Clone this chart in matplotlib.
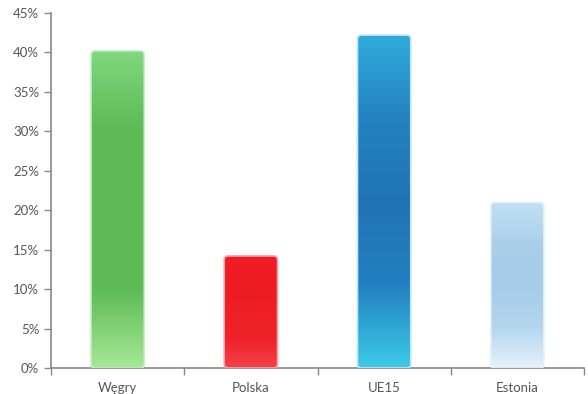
import matplotlib
matplotlib.use("Agg")
import matplotlib.pyplot as plt
import numpy as np
from matplotlib.colors import LinearSegmentedColormap
from matplotlib.patches import FancyBboxPatch
from matplotlib.ticker import MultipleLocator, FuncFormatter

countries = ["Węgry", "Polska", "UE15", "Estonia"]
values = [40.2, 14.2, 42.2, 21.0]
# gradient stops top -> bottom
gradients = [
    ["#80d880", "#5dba56", "#5dba56", "#5dba56", "#a6e896"],
    ["#ee1d26", "#ed1c24", "#ee1f27", "#ef2229", "#f5424a"],
    ["#2fabdb", "#2482c0", "#2174b4", "#2380c0", "#3ccbe8"],
    ["#c2e0f3", "#abcfe9", "#a6cce8", "#b4d5ee", "#e6f1fb"],
]
edges = ["#c8f0c0", "#f8a0a4", "#bfe6f6", "#e8f3fb"]

plt.rcParams["font.family"] = ["Lato", "DejaVu Sans"]
fig = plt.figure(figsize=(5.88, 3.94), dpi=100)
ax = fig.add_axes([51 / 588, 26 / 394, 533 / 588, 355 / 394])

w = 0.4
x = np.arange(len(countries))
for xi, v, stops, ec in zip(x, values, gradients, edges):
    cmap = LinearSegmentedColormap.from_list("g", stops[::-1])
    grad = np.linspace(0, 1, 256).reshape(-1, 1)
    patch = FancyBboxPatch((xi - w / 2, 0), w, v,
                           boxstyle="round,pad=0,rounding_size=0.03",
                           mutation_aspect=17, facecolor="none",
                           edgecolor=ec, linewidth=1.2, zorder=3)
    ax.add_patch(patch)
    im = ax.imshow(grad, cmap=cmap, origin="lower", aspect="auto",
                   extent=(xi - w / 2, xi + w / 2, 0, v), zorder=2)
    im.set_clip_path(patch)

ax.set_xlim(-0.5, len(countries) - 0.5)
ax.set_ylim(0, 45)
ax.yaxis.set_major_locator(MultipleLocator(5))
ax.yaxis.set_major_formatter(FuncFormatter(lambda v, p: f"{v:.0f}%"))
ax.set_xticks(x, countries)
ax.set_xticks(np.arange(len(countries) + 1) - 0.5, minor=True)
ax.tick_params(axis="x", which="major", length=0, pad=10)
ax.tick_params(axis="x", which="minor", length=5, color="#888888", width=1)
ax.tick_params(axis="y", length=5, color="#888888", width=1)
ax.tick_params(labelsize=9.5, labelcolor="#555555")

for s in ["top", "right"]:
    ax.spines[s].set_visible(False)
for s in ["left", "bottom"]:
    ax.spines[s].set_color("#888888")
    ax.spines[s].set_linewidth(1.2)

fig.savefig("out.png", dpi=100)
